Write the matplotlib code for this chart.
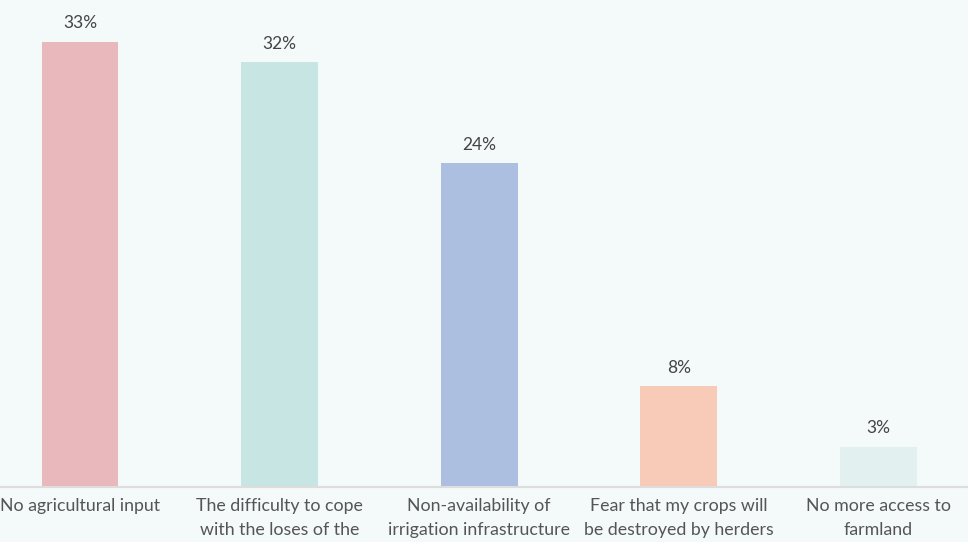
import matplotlib
matplotlib.use("Agg")
import matplotlib.pyplot as plt

categories = [
    "No agricultural input",
    "The difficulty to cope\nwith the loses of the\nprevious season",
    "Non-availability of\nirrigation infrastructure",
    "Fear that my crops will\nbe destroyed by herders",
    "No more access to\nfarmland",
]
values = [33.0, 31.5, 24.0, 7.5, 3.0]
colors = ["#e8b8bc", "#c6e5e3", "#adbfe0", "#f7cbb7", "#e2f1ef"]

bg = "#f4f9f9"
plt.rcParams['font.family'] = ['Lato', 'DejaVu Sans']

fig = plt.figure(figsize=(9.68, 5.42), dpi=100, facecolor=bg)
W, H = 968.0, 542.0
ax = fig.add_axes([-19.8 / W, 55 / H, 998 / W, 472.5 / H])
ax.set_facecolor(bg)

x = range(len(categories))
bars = ax.bar(x, values, width=0.385, color=colors)
for xi, v in zip(x, values):
    ax.text(xi, v + 0.75, f"{v:.0f}%", ha="center", va="bottom",
            fontsize=12.5, color="#444444")

ax.set_xlim(-0.5, 4.5)
ax.set_ylim(0, 35)
ax.set_xticks(list(x))
ax.set_xticklabels(categories, fontsize=12.8, color="#555555", linespacing=1.58, va="top")
ax.tick_params(axis="x", length=0, pad=8)
ax.set_yticks([])
for s in ["top", "right", "left"]:
    ax.spines[s].set_visible(False)
ax.spines["bottom"].set_color("#dddddd")
ax.spines["bottom"].set_linewidth(1.5)

fig.savefig("out.png", dpi=100, facecolor=bg)
